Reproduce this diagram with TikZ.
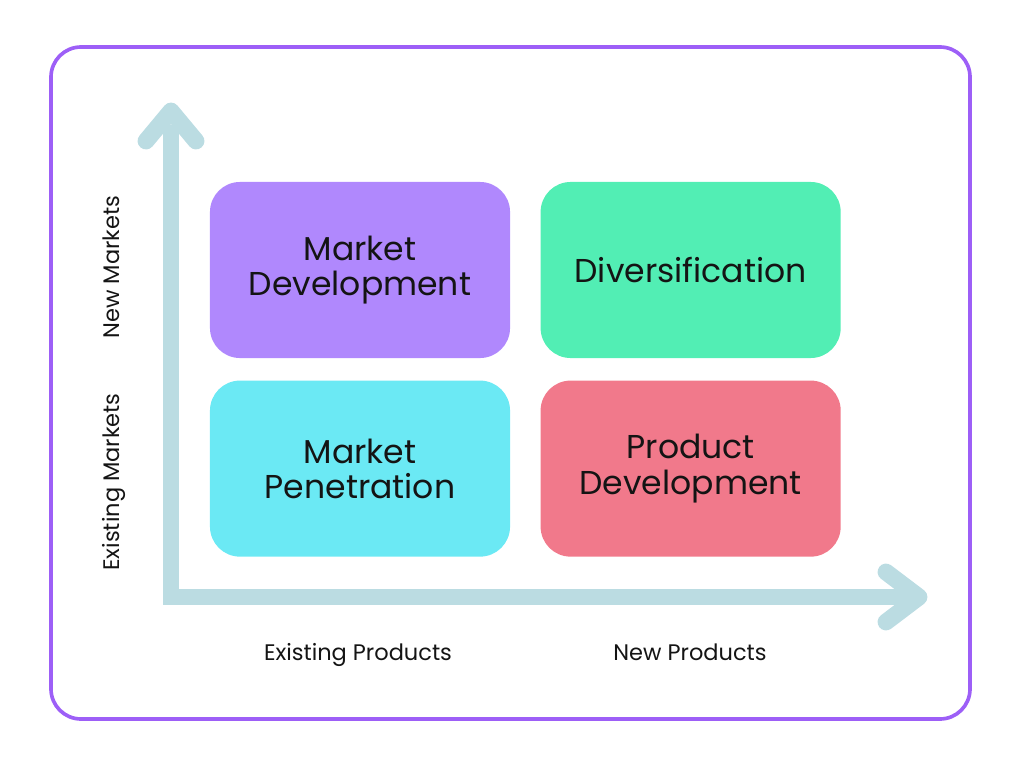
\documentclass[tikz,border=0pt]{standalone}
\usepackage{fontspec}
\setmainfont{Poppins}
\usetikzlibrary{positioning}

\definecolor{framepurple}{RGB}{157,95,247}
\definecolor{axisblue}{RGB}{187,220,226}
\definecolor{mdevfill}{RGB}{176,136,253}
\definecolor{divfill}{RGB}{82,238,180}
\definecolor{mpenfill}{RGB}{107,233,244}
\definecolor{pdevfill}{RGB}{241,121,139}
\definecolor{textdark}{RGB}{20,20,20}

\begin{document}
\begin{tikzpicture}[
    x=0.025cm, y=-0.025cm,
    node distance=5.5mm and 7.5mm,
    frame/.style={draw=framepurple, line width=2.6pt, rounded corners=7.5mm},
    axis/.style={draw=axisblue, line width=12pt},
    chevron/.style={axis, line cap=round, line join=round},
    quad/.style={
        rounded corners=7.5mm,
        minimum width=75mm,
        minimum height=44mm,
        align=center,
        text=textdark,
        font=\fontsize{23.5}{25}\selectfont
    },
    axlabel/.style={
        anchor=base,
        text=textdark,
        font=\fontsize{16}{19}\selectfont
    }
]
\useasboundingbox (0,0) rectangle (1024,768);

% Outer frame
\draw[frame] (51,47) rectangle (970,719);

% Axes
\coordinate (origin) at (171,597);
\coordinate (ytip)   at (171,111);
\coordinate (xtip)   at (919,597);
\draw[axis] (171,125) -- (origin) -- (905,597);
\draw[chevron] (ytip) ++(-25,30) -- (ytip) -- ++(25,30);
\draw[chevron] (xtip) ++(-33,-25) -- (xtip) -- ++(-33,25);

% Quadrants
\node[quad, fill=mdevfill] (mktdev) at (360,270) {Market\\Development};
\node[quad, fill=divfill, right=of mktdev] (divers) {Diversification};
\node[quad, fill=mpenfill, below=of mktdev] (mktpen) {Market\\Penetration};
\node[quad, fill=pdevfill, right=of mktpen] (proddev) {Product\\Development};

% Axis labels
\node[axlabel, rotate=90] (newmkt) at (119,267) {New Markets};
\node[axlabel, rotate=90] (exmkt)  at (119,482) {Existing Markets};
\node[axlabel] (exprod)  at (358,660) {Existing Products};
\node[axlabel] (newprod) at (690,660) {New Products};

\end{tikzpicture}
\end{document}
